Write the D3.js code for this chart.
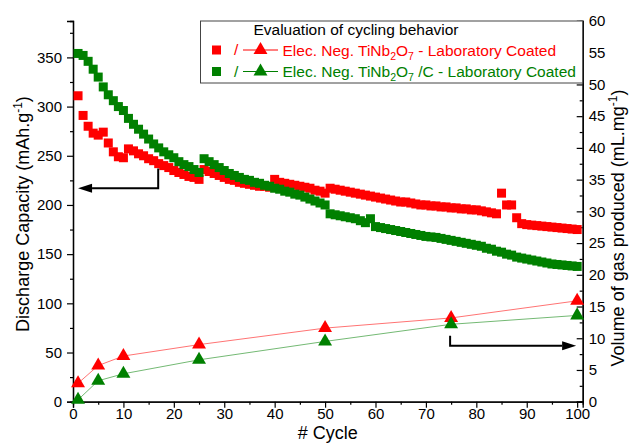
<!DOCTYPE html>
<html>
<head>
<meta charset="utf-8">
<script src="https://cdn.jsdelivr.net/npm/d3@7"></script>
<style>
  body { margin: 0; background: #fff; }
  svg { font-family: Arial, "Liberation Sans", sans-serif; }
</style>
</head>
<body>
<svg id="chart" width="630" height="444"></svg>
<script>
// discharge capacity per cycle (mAh/g), cycles 1..100
var cycles = d3.range(1, 101);
var capTNO = [311, 291, 280, 273, 271, 274, 263, 254, 249, 248,
  257, 255, 252, 250, 247, 245, 242, 240, 238, 235,
  233, 231, 229, 228, 226, 236, 234, 232, 230, 228,
  226, 225, 223, 222, 221, 220, 219, 219, 218, 226,
  223, 222, 221, 220, 219, 218, 217, 215, 214, 212,
  217, 216, 215, 214, 213, 212, 211, 210, 209, 208,
  207, 206, 205, 204, 203, 203, 202, 201, 200, 200,
  199, 199, 198, 198, 197, 197, 196, 196, 195, 195,
  194, 193, 192, 191, 212, 200, 200, 187, 181, 180,
  179.5, 179, 178.5, 178, 177.5, 177, 176.5, 176, 175.5, 175];
var capTNOC = [354, 352, 346, 338, 330, 320, 312, 306, 300, 296,
  288, 282, 277, 272, 267, 262, 258, 254, 251, 248,
  244, 241, 239, 236, 233, 247, 244, 241, 238, 235,
  232, 230, 228, 226, 225, 223, 222, 220, 219, 217,
  216, 214, 213, 211, 210, 208, 206, 204, 202, 200,
  191, 190, 189, 188, 187, 186, 184, 182, 186, 178,
  177, 176, 175, 174, 173, 172, 171, 170, 169, 168,
  167.5, 167, 166, 165, 164, 163, 162, 161, 160, 159,
  158, 156, 155, 153, 152, 150, 149, 147, 146, 145,
  144, 143, 142, 141, 140, 139.5, 139, 138.5, 138, 137.5];

// gas produced (mL/mg)
var gasCycles = [1, 5, 10, 25, 50, 75, 100];
var gasTNO = [2.9, 5.7, 7.2, 9.0, 11.6, 13.2, 15.9];
var gasTNOC = [0.3, 3.3, 4.4, 6.6, 9.5, 12.2, 13.6];

var xTicks = d3.range(0, 101, 10);
var yLeftTicks = d3.range(0, 351, 50);
var yRightTicks = d3.range(0, 61, 5);

var RED = "#ff0000", GREEN = "#008000";

var svg = d3.select("#chart");
var pLeft = 73, pRight = 582.7, pTop = 21, pBottom = 401.7;

var x = d3.scaleLinear().domain([0, 101.1]).range([pLeft, pRight]);
var yL = d3.scaleLinear().domain([0, 387]).range([pBottom, pTop]);
var yR = d3.scaleLinear().domain([0, 60]).range([pBottom, pTop]);

function styleAxis(g) {
  g.select(".domain").attr("stroke", "#000").attr("stroke-width", 1.3);
  g.selectAll(".tick line").attr("stroke", "#000").attr("stroke-width", 1.2);
  g.selectAll(".tick text").attr("font-size", "15px").attr("fill", "#000")
    .attr("font-family", "Arial, 'Liberation Sans', sans-serif");
}

// minor ticks first
svg.append("g").attr("transform", "translate(0," + pBottom + ")")
  .call(d3.axisBottom(x).tickValues(d3.range(5, 100, 10)).tickSize(3).tickFormat(""))
  .call(styleAxis);
svg.append("g").attr("transform", "translate(" + pLeft + ",0)")
  .call(d3.axisLeft(yL).tickValues(d3.range(25, 387, 50)).tickSize(3).tickFormat(""))
  .call(styleAxis);
svg.append("g").attr("transform", "translate(" + pRight + ",0)")
  .call(d3.axisRight(yR).tickValues(d3.range(2.5, 60, 5)).tickSize(-3).tickFormat(""))
  .call(styleAxis);

svg.append("g").attr("transform", "translate(0," + pBottom + ")")
  .call(d3.axisBottom(x).tickValues(xTicks).tickSize(6).tickPadding(1))
  .call(styleAxis);
svg.append("g").attr("transform", "translate(" + pLeft + ",0)")
  .call(d3.axisLeft(yL).tickValues(yLeftTicks).tickSize(6).tickPadding(5))
  .call(styleAxis);
svg.append("g").attr("transform", "translate(" + pRight + ",0)")
  .call(d3.axisRight(yR).tickValues(yRightTicks).tickSize(-6).tickPadding(6))
  .call(styleAxis);

// axis titles
svg.append("text").attr("x", (pLeft + pRight) / 2).attr("y", 439)
  .attr("text-anchor", "middle").attr("font-size", "18px").text("# Cycle");

var lt = svg.append("text").attr("transform", "translate(29,214) rotate(-90)")
  .attr("text-anchor", "middle").attr("font-size", "18px");
lt.append("tspan").text("Discharge Capacity (mAh.g");
lt.append("tspan").attr("font-size", "12px").attr("dy", -7).text("-1");
lt.append("tspan").attr("dy", 7).text(")");

var rt = svg.append("text").attr("transform", "translate(624,228) rotate(-90)")
  .attr("text-anchor", "middle").attr("font-size", "18px");
rt.append("tspan").text("Volume of gas produced (mL.mg");
rt.append("tspan").attr("font-size", "12px").attr("dy", -7).text("-1");
rt.append("tspan").attr("dy", 7).text(")");

// capacity squares
var sq = 9;
function squares(vals, color) {
  svg.append("g").selectAll("rect")
    .data(vals)
    .enter()
    .append("rect")
    .attr("x", function(d, i) { return x(cycles[i]) - sq / 2; })
    .attr("y", function(d) { return yL(d) - sq / 2; })
    .attr("width", sq)
    .attr("height", sq)
    .attr("fill", color);
}
squares(capTNO, RED);
squares(capTNOC, GREEN);

// gas lines + triangles
var tri = d3.symbol().type(d3.symbolTriangle).size(84);
function gas(vals, color) {
  var line = d3.line()
    .x(function(d, i) { return x(gasCycles[i]); })
    .y(function(d) { return yR(d); });
  svg.append("path").datum(vals)
    .attr("d", line)
    .attr("fill", "none")
    .attr("stroke", color)
    .attr("stroke-opacity", 0.55)
    .attr("stroke-width", 1);
  svg.append("g").selectAll("path")
    .data(vals)
    .enter()
    .append("path")
    .attr("d", tri)
    .attr("transform", function(d, i) {
      return "translate(" + x(gasCycles[i]) + "," + yR(d) + ")";
    })
    .attr("fill", color);
}
gas(gasTNO, RED);
gas(gasTNOC, GREEN);

// arrows pointing to the matching axis
function arrow(pts, dir) {
  var p = pts.map(function(d) { return [x(d[0]), d[1]]; });
  var tip = p[p.length - 1];
  var back = tip[0] - dir * 14;
  p[p.length - 1] = [back, tip[1]];
  svg.append("path")
    .attr("d", d3.line()(p))
    .attr("fill", "none").attr("stroke", "#000").attr("stroke-width", 2);
  svg.append("path")
    .attr("d", "M" + tip[0] + "," + tip[1] + "L" + back + "," + (tip[1] - 4.5) +
      "L" + back + "," + (tip[1] + 4.5) + "Z")
    .attr("fill", "#000");
}
arrow([[16.9, yL(237)], [16.9, yL(217)], [1, yL(217)]], -1);
arrow([[74.8, yR(10.4)], [74.8, yR(8.8)], [99.8, yR(8.8)]], 1);

// legend
var lg = svg.append("g");
lg.append("rect").attr("x", 200.5).attr("y", 21).attr("width", pRight - 200.5).attr("height", 62)
  .attr("fill", "#fff").attr("stroke", "#444").attr("stroke-width", 1);
lg.append("text").attr("x", 356).attr("y", 35).attr("text-anchor", "middle")
  .attr("font-size", "15.5px").text("Evaluation of cycling behavior");

var legendRows = [
  { color: RED, label: "Elec. Neg. TiNb", tail: " - Laboratory Coated", y: 50 },
  { color: GREEN, label: "Elec. Neg. TiNb", tail: " /C - Laboratory Coated", y: 71.5 }
];
legendRows.forEach(function(r) {
  lg.append("rect").attr("x", 212).attr("y", r.y - 4.5).attr("width", 9).attr("height", 9)
    .attr("fill", r.color);
  lg.append("text").attr("x", 234).attr("y", r.y + 5).attr("font-size", "15.5px")
    .attr("fill", r.color).text("/");
  lg.append("line").attr("x1", 243).attr("x2", 278).attr("y1", r.y).attr("y2", r.y)
    .attr("stroke", r.color).attr("stroke-width", 1);
  lg.append("path").attr("d", tri).attr("transform", "translate(260.5," + r.y + ")")
    .attr("fill", r.color);
  var t = lg.append("text").attr("x", 282.5).attr("y", r.y + 5.5)
    .attr("font-size", "15.5px").attr("fill", r.color);
  t.append("tspan").text(r.label);
  t.append("tspan").attr("font-size", "10.5px").attr("dy", 4).text("2");
  t.append("tspan").attr("dy", -4).text("O");
  t.append("tspan").attr("font-size", "10.5px").attr("dy", 4).text("7");
  t.append("tspan").attr("dy", -4).text(r.tail);
});
</script>
</body>
</html>
